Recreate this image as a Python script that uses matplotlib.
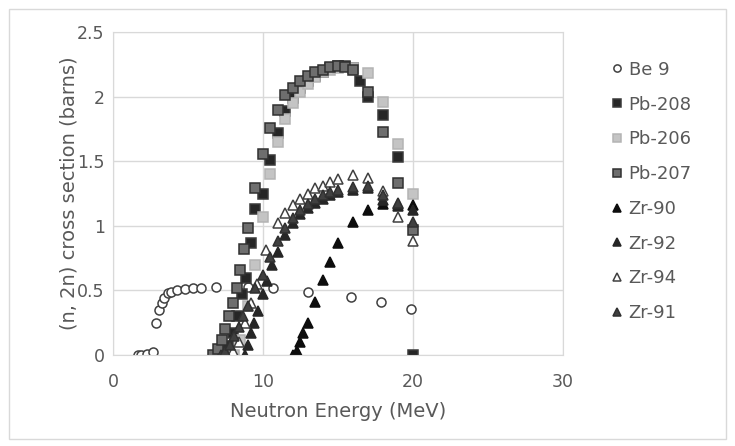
import matplotlib
matplotlib.use('Agg')
import matplotlib.pyplot as plt
from matplotlib.patches import Rectangle

# (n,2n) cross sections, energy in MeV and sigma in barns
be9_e = [1.7, 1.9, 2.3, 2.7, 2.9, 3.07, 3.25, 3.4, 3.7, 3.9, 4.3, 4.8, 5.35, 5.9, 6.9, 9.0, 10.7, 13.0, 15.9, 17.9, 19.9]
be9_s = [0.0, 0.0, 0.01, 0.02, 0.25, 0.35, 0.40, 0.44, 0.48, 0.49, 0.50, 0.51, 0.52, 0.52, 0.53, 0.53, 0.52, 0.49, 0.45, 0.41, 0.36]

pb208_e = [7.4, 7.7, 8.0, 8.3, 8.6, 8.9, 9.2, 9.5, 10.0, 10.5, 11.0, 11.5, 12.0, 12.5, 13.0, 13.5, 14.0, 14.5, 15.0, 15.5, 16.0, 16.5, 17.0, 18.0, 19.0, 20.0]
pb208_s = [0.0, 0.07, 0.17, 0.30, 0.47, 0.60, 0.87, 1.13, 1.25, 1.51, 1.72, 1.89, 1.99, 2.07, 2.12, 2.16, 2.19, 2.22, 2.24, 2.24, 2.22, 2.12, 2.00, 1.86, 1.53, 0.0]

pb206_e = [8.1, 8.5, 9.0, 9.5, 10.0, 10.5, 11.0, 11.5, 12.0, 12.5, 13.0, 13.5, 14.0, 14.5, 15.0, 16.0, 17.0, 18.0, 19.0, 20.0]
pb206_s = [0.0, 0.12, 0.38, 0.70, 1.07, 1.40, 1.65, 1.83, 1.95, 2.04, 2.10, 2.15, 2.19, 2.21, 2.22, 2.22, 2.18, 1.96, 1.63, 1.25]

pb207_e = [6.7, 7.0, 7.25, 7.5, 7.75, 8.0, 8.25, 8.5, 8.75, 9.0, 9.5, 10.0, 10.5, 11.0, 11.5, 12.0, 12.5, 13.0, 13.5, 14.0, 14.5, 15.0, 15.5, 16.0, 17.0, 18.0, 19.0, 20.0]
pb207_s = [0.0, 0.05, 0.12, 0.20, 0.30, 0.40, 0.52, 0.66, 0.82, 0.98, 1.29, 1.56, 1.76, 1.90, 2.01, 2.07, 2.12, 2.16, 2.19, 2.21, 2.23, 2.24, 2.23, 2.21, 2.04, 1.73, 1.33, 0.97]

zr90_e = [12.0, 12.3, 12.5, 12.7, 13.0, 13.5, 14.0, 14.5, 15.0, 16.0, 17.0, 18.0, 19.0, 20.0]
zr90_s = [0.0, 0.03, 0.10, 0.17, 0.25, 0.41, 0.58, 0.72, 0.87, 1.03, 1.12, 1.17, 1.17, 1.16]

zr92_e = [8.8, 9.0, 9.2, 9.4, 9.7, 10.0, 10.3, 10.6, 11.0, 11.5, 12.0, 12.5, 13.0, 13.5, 14.0, 14.5, 15.0, 16.0, 17.0, 18.0, 19.0, 20.0]
zr92_s = [0.0, 0.08, 0.17, 0.25, 0.34, 0.47, 0.57, 0.70, 0.80, 0.93, 1.02, 1.09, 1.14, 1.18, 1.21, 1.24, 1.26, 1.28, 1.29, 1.20, 1.15, 1.12]

zr94_e = [7.6, 8.0, 8.4, 8.8, 9.2, 9.6, 10.2, 11.0, 11.5, 12.0, 12.5, 13.0, 13.5, 14.0, 14.5, 15.0, 16.0, 17.0, 18.0, 19.0, 20.0]
zr94_s = [0.0, 0.03, 0.10, 0.25, 0.40, 0.55, 0.81, 1.02, 1.10, 1.16, 1.21, 1.25, 1.29, 1.31, 1.34, 1.36, 1.39, 1.37, 1.27, 1.07, 0.88]

zr91_e = [7.2, 7.5, 7.8, 8.1, 8.4, 8.7, 9.0, 9.5, 10.0, 10.5, 11.0, 11.5, 12.0, 12.5, 13.0, 13.5, 14.0, 14.5, 15.0, 16.0, 17.0, 18.0, 19.0, 20.0]
zr91_s = [0.0, 0.03, 0.08, 0.15, 0.22, 0.30, 0.38, 0.52, 0.62, 0.76, 0.88, 0.98, 1.06, 1.12, 1.17, 1.21, 1.24, 1.26, 1.28, 1.30, 1.31, 1.24, 1.18, 1.03]

series = [
    ('Be 9', be9_e, be9_s, 'o', 'white', '#404040'),
    ('Pb-208', pb208_e, pb208_s, 's', '#262626', '#3a3a3a'),
    ('Pb-206', pb206_e, pb206_s, 's', '#c4c4c4', '#b4b4b4'),
    ('Pb-207', pb207_e, pb207_s, 's', '#6e6e6e', '#303030'),
    ('Zr-90', zr90_e, zr90_s, '^', '#0d0d0d', '#0d0d0d'),
    ('Zr-92', zr92_e, zr92_s, '^', '#262626', '#262626'),
    ('Zr-94', zr94_e, zr94_s, '^', 'white', '#404040'),
    ('Zr-91', zr91_e, zr91_s, '^', '#404040', '#303030'),
]

text_col = '#595959'
grid_col = '#d9d9d9'

fig = plt.figure(figsize=(7.35, 4.46), dpi=100)
ax = fig.add_axes([0.1537, 0.204, 0.6122, 0.724])

for name, e, s, m, fc, ec in series:
    ax.plot(e, s, linestyle='none', marker=m, markersize=6.5,
            markerfacecolor=fc, markeredgecolor=ec, markeredgewidth=1.1,
            label=name)

ax.set_xlim(0, 30)
ax.set_ylim(0, 2.5)
ax.set_xticks([0, 10, 20, 30])
ax.set_yticks([0, 0.5, 1, 1.5, 2, 2.5])
ax.set_yticklabels(['0', '0.5', '1', '1.5', '2', '2.5'])
ax.grid(True, color=grid_col, linewidth=1)
ax.set_axisbelow(True)
for sp in ax.spines.values():
    sp.set_color(grid_col)
ax.tick_params(length=0, colors=text_col, labelsize=12.5)
ax.tick_params(axis='x', pad=13)
ax.tick_params(axis='y', pad=6)

ax.set_xlabel('Neutron Energy (MeV)', fontsize=14, color=text_col, labelpad=8)
ax.set_ylabel('(n, 2n) cross section (barns)', fontsize=14, color=text_col, labelpad=-1)

ax.legend(loc='upper left', bbox_to_anchor=(0.822, 0.88), bbox_transform=fig.transFigure,
          frameon=False, fontsize=13, labelcolor=text_col, handlelength=0.6,
          handletextpad=0.35, labelspacing=0.93, borderaxespad=0, markerscale=0.8)

# light border around the whole chart area
fig.patches.append(Rectangle((0.012, 0.015), 0.976, 0.965, transform=fig.transFigure,
                             fill=False, edgecolor='#d9d9d9', linewidth=1))

fig.savefig('out.png', dpi=100)
